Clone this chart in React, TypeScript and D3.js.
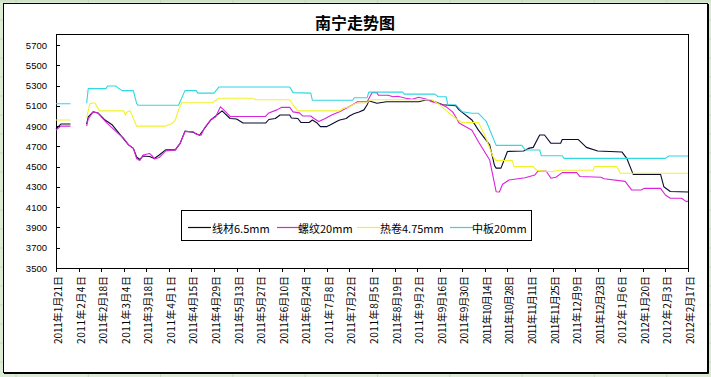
import React from "react";
import * as d3 from "d3";

const chartTitle = "南宁走势图";
const seriesNames = ["线材6.5mm", "螺纹20mm", "热卷4.75mm", "中板20mm"];
const seriesColors = ["#0a0a30", "#dd22dd", "#f2f22a", "#30d8e0"];
const yTicks = [3500, 3700, 3900, 4100, 4300, 4500, 4700, 4900, 5100, 5300, 5500, 5700];
const xTickDates = [
  "2011-01-21", "2011-02-04", "2011-02-18", "2011-03-04", "2011-03-18", "2011-04-01",
  "2011-04-15", "2011-04-29", "2011-05-13", "2011-05-27", "2011-06-10", "2011-06-24",
  "2011-07-08", "2011-07-22", "2011-08-05", "2011-08-19", "2011-09-02", "2011-09-16",
  "2011-09-30", "2011-10-14", "2011-10-28", "2011-11-11", "2011-11-25", "2011-12-09",
  "2011-12-23", "2012-01-06", "2012-01-20", "2012-02-03", "2012-02-17",
];

type Pt = [string, number | null];

const wireRod: Pt[] = [
  ["2011-01-21", 4870], ["2011-01-24", 4920], ["2011-01-30", 4920], ["2011-02-01", null],
  ["2011-02-09", 4920], ["2011-02-10", 4990], ["2011-02-13", 5040], ["2011-02-16", 5030],
  ["2011-02-20", 4965], ["2011-02-25", 4910], ["2011-03-01", 4830], ["2011-03-07", 4715],
  ["2011-03-10", 4680], ["2011-03-12", 4595], ["2011-03-14", 4570], ["2011-03-16", 4605],
  ["2011-03-20", 4600], ["2011-03-23", 4580], ["2011-03-26", 4615], ["2011-03-30", 4665],
  ["2011-04-05", 4665], ["2011-04-08", 4730], ["2011-04-11", 4850], ["2011-04-16", 4840],
  ["2011-04-20", 4810], ["2011-04-27", 4960], ["2011-05-04", 5050], ["2011-05-09", 4975],
  ["2011-05-13", 4970], ["2011-05-17", 4930], ["2011-05-31", 4930], ["2011-06-02", 4965],
  ["2011-06-06", 4975], ["2011-06-09", 5010], ["2011-06-15", 5010], ["2011-06-16", 4980],
  ["2011-06-20", 4975], ["2011-06-22", 4935], ["2011-06-27", 4935], ["2011-06-29", 4960],
  ["2011-07-02", 4930], ["2011-07-04", 4895], ["2011-07-08", 4895], ["2011-07-10", 4910],
  ["2011-07-14", 4945], ["2011-07-16", 4960], ["2011-07-20", 4975], ["2011-07-22", 5000],
  ["2011-07-25", 5025], ["2011-07-28", 5040], ["2011-07-31", 5060], ["2011-08-02", 5110],
  ["2011-08-03", 5150], ["2011-08-08", 5125], ["2011-08-14", 5140], ["2011-09-03", 5140],
  ["2011-09-08", 5160], ["2011-09-13", 5140], ["2011-09-18", 5110], ["2011-09-26", 5100],
  ["2011-09-28", 5060], ["2011-10-06", 4960], ["2011-10-10", 4860], ["2011-10-17", 4715],
  ["2011-10-20", 4510], ["2011-10-21", 4485], ["2011-10-24", 4485], ["2011-10-28", 4650],
  ["2011-11-07", 4655], ["2011-11-10", 4680], ["2011-11-13", 4690], ["2011-11-17", 4812],
  ["2011-11-20", 4812], ["2011-11-24", 4730], ["2011-11-30", 4730], ["2011-12-01", 4767],
  ["2011-12-11", 4767], ["2011-12-16", 4690], ["2011-12-23", 4654], ["2012-01-07", 4645],
  ["2012-01-10", 4582], ["2012-01-14", 4424], ["2012-01-31", 4424], ["2012-02-02", 4302],
  ["2012-02-06", 4255], ["2012-02-17", 4250],
];

const rebar: Pt[] = [
  ["2011-01-21", 4860], ["2011-01-24", 4900], ["2011-01-30", 4900], ["2011-02-01", null],
  ["2011-02-09", 4900], ["2011-02-10", 4970], ["2011-02-13", 5040], ["2011-02-16", 5030],
  ["2011-02-19", 4975], ["2011-02-21", 4940], ["2011-02-24", 4895], ["2011-03-01", 4820],
  ["2011-03-04", 4780], ["2011-03-07", 4715], ["2011-03-10", 4680], ["2011-03-12", 4580],
  ["2011-03-14", 4560], ["2011-03-16", 4615], ["2011-03-20", 4630], ["2011-03-22", 4600],
  ["2011-03-23", 4575], ["2011-03-26", 4590], ["2011-03-30", 4655], ["2011-04-05", 4665],
  ["2011-04-08", 4730], ["2011-04-11", 4845], ["2011-04-16", 4845], ["2011-04-18", 4820],
  ["2011-04-21", 4810], ["2011-04-23", 4880], ["2011-04-27", 4965], ["2011-04-30", 4990],
  ["2011-05-03", 5090], ["2011-05-05", 5060], ["2011-05-09", 4995], ["2011-05-31", 4995],
  ["2011-06-02", 5030], ["2011-06-07", 5060], ["2011-06-10", 5085], ["2011-06-15", 5085],
  ["2011-06-17", 5040], ["2011-06-21", 5030], ["2011-06-23", 5000], ["2011-06-28", 5000],
  ["2011-06-30", 4975], ["2011-07-03", 4945], ["2011-07-07", 4975], ["2011-07-11", 5010],
  ["2011-07-14", 5030], ["2011-07-17", 5050], ["2011-07-20", 5075], ["2011-07-24", 5110],
  ["2011-07-27", 5140], ["2011-08-02", 5140], ["2011-08-05", 5230], ["2011-08-08", 5230],
  ["2011-08-09", 5205], ["2011-08-15", 5205], ["2011-08-18", 5190], ["2011-08-21", 5195],
  ["2011-08-26", 5175], ["2011-08-30", 5165], ["2011-09-03", 5185], ["2011-09-08", 5165],
  ["2011-09-11", 5140], ["2011-09-16", 5120], ["2011-09-20", 5090], ["2011-09-24", 5040],
  ["2011-09-26", 4990], ["2011-09-28", 4930], ["2011-10-06", 4860], ["2011-10-10", 4745],
  ["2011-10-17", 4565], ["2011-10-21", 4253], ["2011-10-23", 4250], ["2011-10-25", 4326],
  ["2011-10-29", 4368], ["2011-11-08", 4391], ["2011-11-14", 4418], ["2011-11-16", 4457],
  ["2011-11-21", 4457], ["2011-11-24", 4385], ["2011-11-27", 4395], ["2011-12-01", 4441],
  ["2011-12-10", 4441], ["2011-12-12", 4402], ["2011-12-25", 4395], ["2011-12-27", 4380],
  ["2012-01-09", 4355], ["2012-01-13", 4270], ["2012-01-19", 4270], ["2012-01-21", 4286],
  ["2012-01-31", 4286], ["2012-02-03", 4220], ["2012-02-06", 4188], ["2012-02-13", 4188],
  ["2012-02-16", 4155], ["2012-02-17", 4160],
];

const hotCoil: Pt[] = [
  ["2011-01-21", 4960], ["2011-01-30", 4960], ["2011-02-01", null],
  ["2011-02-09", 4980], ["2011-02-11", 5120], ["2011-02-14", 5130], ["2011-02-17", 5050],
  ["2011-03-04", 5050], ["2011-03-05", 5010], ["2011-03-06", 5040], ["2011-03-08", 5050],
  ["2011-03-10", 4975], ["2011-03-12", 4900], ["2011-03-30", 4900], ["2011-04-03", 4925],
  ["2011-04-05", 4960], ["2011-04-07", 5060], ["2011-04-09", 5130], ["2011-04-28", 5130],
  ["2011-05-02", 5175], ["2011-05-23", 5175], ["2011-05-25", 5160], ["2011-06-15", 5160],
  ["2011-06-17", 5110], ["2011-06-20", 5050], ["2011-07-16", 5050], ["2011-07-18", 5075],
  ["2011-07-22", 5090], ["2011-07-26", 5125], ["2011-08-02", 5130], ["2011-08-03", 5150],
  ["2011-08-05", 5160], ["2011-09-11", 5160], ["2011-09-16", 5110], ["2011-09-22", 5025],
  ["2011-09-26", 4975], ["2011-09-30", 4935], ["2011-10-10", 4935], ["2011-10-14", 4810],
  ["2011-10-19", 4600], ["2011-10-21", 4560], ["2011-10-31", 4560], ["2011-11-01", 4500],
  ["2011-11-13", 4500], ["2011-11-15", 4465], ["2011-11-24", 4450], ["2011-11-29", 4465],
  ["2011-12-20", 4465], ["2011-12-21", 4500], ["2012-01-04", 4500], ["2012-01-06", 4435],
  ["2012-02-17", 4435],
];

const mediumPlate: Pt[] = [
  ["2011-01-21", 5120], ["2011-01-30", 5120], ["2011-02-01", null],
  ["2011-02-09", 5125], ["2011-02-10", 5270], ["2011-02-21", 5270], ["2011-02-22", 5295],
  ["2011-02-27", 5295], ["2011-03-01", 5270], ["2011-03-03", 5250], ["2011-03-10", 5250],
  ["2011-03-12", 5125], ["2011-03-13", 5105], ["2011-04-07", 5105], ["2011-04-11", 5250],
  ["2011-04-18", 5250], ["2011-04-19", 5225], ["2011-04-29", 5225], ["2011-05-02", 5285],
  ["2011-06-15", 5285], ["2011-06-17", 5230], ["2011-06-28", 5225], ["2011-06-29", 5155],
  ["2011-07-24", 5155], ["2011-07-25", 5180], ["2011-08-02", 5180], ["2011-08-03", 5235],
  ["2011-08-24", 5235], ["2011-08-25", 5215], ["2011-09-13", 5215], ["2011-09-15", 5190],
  ["2011-09-20", 5190], ["2011-09-21", 5110], ["2011-09-26", 5110], ["2011-09-30", 5042],
  ["2011-10-06", 5026], ["2011-10-10", 5026], ["2011-10-15", 4943], ["2011-10-21", 4710],
  ["2011-11-06", 4710], ["2011-11-08", 4664], ["2011-11-17", 4664], ["2011-11-18", 4608],
  ["2011-12-01", 4608], ["2011-12-02", 4582], ["2012-02-03", 4582], ["2012-02-05", 4605],
  ["2012-02-17", 4605],
];

const allSeries = [wireRod, rebar, hotCoil, mediumPlate];

const parse = d3.timeParse("%Y-%m-%d");

export default function App() {
  const W = 711;
  const H = 377;
  const plotL = 56, plotR = 688, plotT = 34, plotB = 268;

  const x = d3.scaleTime()
    .domain([parse("2011-01-21")!, parse("2012-02-17")!])
    .range([plotL, plotR]);
  const y = d3.scaleLinear().domain([3500, 5700]).range([plotB, 45]);

  const line = d3.line<Pt>()
    .defined((d) => d[1] !== null)
    .x((d) => x(parse(d[0])!))
    .y((d) => y(d[1] as number));

  const gridCols = d3.range(16, W, 72.3);
  const gridRows = d3.range(1, H, 19);

  const legendItems = [
    { lx: 188, tx: 212 },
    { lx: 277, tx: 298 },
    { lx: 357, tx: 380 },
    { lx: 450, tx: 472 },
  ];

  const fmt = (s: string) => {
    const d = parse(s)!;
    return `${d.getFullYear()}年${d.getMonth() + 1}月${d.getDate()}日`;
  };

  return (
    <svg
      width={W}
      height={H}
      style={{ position: "absolute", left: 0, top: 0, display: "block" }}
      fontFamily="'Noto Sans CJK SC', sans-serif"
    >
      <rect x={0} y={0} width={W} height={H} fill="#dcebd4" />
      {gridCols.map((c, i) => (
        <line key={"gc" + i} x1={c} x2={c} y1={0} y2={H} stroke="#c3d8bb" strokeWidth={1} />
      ))}
      {gridRows.map((r, i) => (
        <line key={"gr" + i} x1={0} x2={W} y1={r} y2={r} stroke="#c3d8bb" strokeWidth={1} />
      ))}
      <rect x={3.5} y={3.5} width={704} height={369} fill="#ffffff" stroke="#000" strokeWidth={1} />
      <line x1={708.5} x2={708.5} y1={4} y2={373.5} stroke="#000" strokeWidth={1} />
      <line x1={4} x2={708.5} y1={373.5} y2={373.5} stroke="#000" strokeWidth={1} />

      <text x={355} y={29} textAnchor="middle" fontSize={16} fontWeight="bold" fill="#000">
        {chartTitle}
      </text>

      <rect x={plotL + 0.5} y={plotT + 0.5} width={plotR - plotL} height={plotB - plotT} fill="none" stroke="#000" strokeWidth={1} />

      {yTicks.map((t) => (
        <g key={"yt" + t}>
          <line x1={plotL} x2={plotL + 4} y1={Math.round(y(t)) + 0.5} y2={Math.round(y(t)) + 0.5} stroke="#000" />
          <text
            x={47}
            y={y(t)}
            textAnchor="end"
            dominantBaseline="central"
            fontSize={9.5}
            fontFamily="'Liberation Sans', Arial, sans-serif"
            fill="#000"
          >
            {t}
          </text>
        </g>
      ))}

      {xTickDates.map((s) => {
        const xp = Math.round(x(parse(s)!)) + 0.5;
        return (
          <g key={"xt" + s}>
            <line x1={xp} x2={xp} y1={plotB} y2={plotB + 4} stroke="#000" />
            <text
              transform={`translate(${xp + 0.5},276) rotate(-90)`}
              textAnchor="end"
              dominantBaseline="central"
              fontSize={10}
              textLength={68}
              lengthAdjust="spacing"
              fill="#000"
            >
              {fmt(s)}
            </text>
          </g>
        );
      })}

      {allSeries.map((s, i) => (
        <path key={"s" + i} d={line(s) || ""} fill="none" stroke={seriesColors[i]} strokeWidth={1.1} strokeLinejoin="round" />
      ))}

      <rect x={181.5} y={210.5} width={350} height={30} fill="#fff" stroke="#000" strokeWidth={1} />
      {seriesNames.map((n, i) => (
        <g key={"lg" + i}>
          <line x1={legendItems[i].lx} x2={legendItems[i].lx + 23} y1={227.5} y2={227.5} stroke={seriesColors[i]} strokeWidth={1.2} />
          <text x={legendItems[i].tx} y={228} dominantBaseline="central" fontSize={11} fill="#000">
            {n}
          </text>
        </g>
      ))}
    </svg>
  );
}
